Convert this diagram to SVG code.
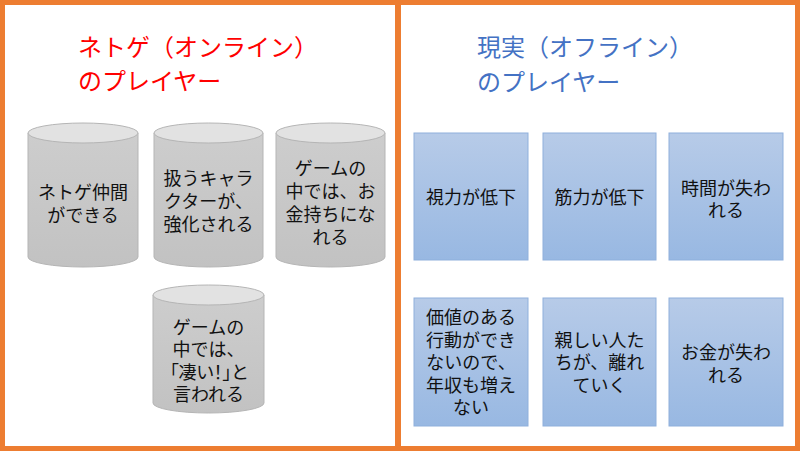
<svg xmlns="http://www.w3.org/2000/svg" width="800" height="451" viewBox="0 0 800 451">
<defs>
<linearGradient id="cylBody" x1="0" y1="0" x2="0" y2="1">
<stop offset="0" stop-color="#cdcdcd"/>
<stop offset="1" stop-color="#c2c2c2"/>
</linearGradient>
<linearGradient id="boxFill" x1="0" y1="0" x2="0" y2="1">
<stop offset="0" stop-color="#b7cbe8"/>
<stop offset="1" stop-color="#98b8e2"/>
</linearGradient>
<style>
.frame{fill:none;stroke:#ed7d31;stroke-width:5}
.cylb{fill:url(#cylBody);stroke:#b5b5b5;stroke-width:1}
.cylt{fill:#e2e2e2;stroke:#b5b5b5;stroke-width:1}
.box{fill:url(#boxFill);stroke:#8fb0dc;stroke-width:1}
.t{font-family:"Noto Sans CJK JP","Noto Sans",sans-serif;font-size:18px;fill:#111;text-anchor:middle}
.p{font-feature-settings:"palt"}
.h{font-family:"Noto Sans CJK JP","Noto Sans",sans-serif;font-size:24px}
</style>
</defs>
<rect width="800" height="451" fill="#ffffff"/>
<g id="frame">
<rect class="frame" x="2.5" y="2.5" width="795" height="446"/>
<line x1="398" y1="2" x2="398" y2="449" stroke="#ed7d31" stroke-width="6"/>
</g>
<g id="title-left">
<text class="h" fill="#ff0000" x="78" y="56">ネトゲ（オンライン）</text>
<text class="h" fill="#ff0000" x="78" y="90">のプレイヤー</text>
</g>
<g id="title-right">
<text class="h" fill="#4472c4" x="477" y="56">現実（オフライン）</text>
<text class="h" fill="#4472c4" x="477" y="91">のプレイヤー</text>
</g>
<g id="cyl1">
<path class="cylb" d="M28,133 V257 A55,10 0 0 0 138,257 V133 Z"/>
<ellipse class="cylt" cx="83" cy="133" rx="55" ry="10"/>
<text class="t" x="83" y="199">ネトゲ仲間</text>
<text class="t" x="83" y="222">ができる</text>
</g>
<g id="cyl2">
<path class="cylb" d="M154,133 V257 A54.5,10 0 0 0 263,257 V133 Z"/>
<ellipse class="cylt" cx="208.5" cy="133" rx="54.5" ry="10"/>
<text class="t" x="208.5" y="185">扱うキャラ</text>
<text class="t" x="208.5" y="208">クターが、</text>
<text class="t" x="208.5" y="231">強化される</text>
</g>
<g id="cyl3">
<path class="cylb" d="M276,133 V257 A54.5,10 0 0 0 385,257 V133 Z"/>
<ellipse class="cylt" cx="330.5" cy="133" rx="54.5" ry="10"/>
<text class="t" x="330.5" y="175">ゲームの</text>
<text class="t" x="330.5" y="198">中では、お</text>
<text class="t" x="330.5" y="221">金持ちにな</text>
<text class="t" x="330.5" y="244">れる</text>
</g>
<g id="cyl4">
<path class="cylb" d="M153,295 V403 A55.5,10 0 0 0 264,403 V295 Z"/>
<ellipse class="cylt" cx="208.5" cy="295" rx="55.5" ry="10"/>
<text class="t" x="208.5" y="334">ゲームの</text>
<text class="t" x="208.5" y="356">中では、</text>
<text class="t p" x="208.5" y="379">「凄い！」と</text>
<text class="t" x="208.5" y="401">言われる</text>
</g>
<g id="box1">
<rect class="box" x="414" y="133" width="114" height="127"/>
<text class="t" x="471" y="204">視力が低下</text>
</g>
<g id="box2">
<rect class="box" x="543" y="133" width="113" height="127"/>
<text class="t" x="599.5" y="204">筋力が低下</text>
</g>
<g id="box3">
<rect class="box" x="669" y="133" width="114" height="127"/>
<text class="t" x="726" y="195">時間が失わ</text>
<text class="t" x="726" y="217">れる</text>
</g>
<g id="box4">
<rect class="box" x="414" y="298" width="114" height="128"/>
<text class="t" x="471" y="324">価値のある</text>
<text class="t" x="471" y="347">行動ができ</text>
<text class="t" x="471" y="369">ないので、</text>
<text class="t" x="471" y="392">年収も増え</text>
<text class="t" x="471" y="414">ない</text>
</g>
<g id="box5">
<rect class="box" x="543" y="298" width="113" height="128"/>
<text class="t" x="599.5" y="347">親しい人た</text>
<text class="t" x="599.5" y="369">ちが、離れ</text>
<text class="t" x="599.5" y="392">ていく</text>
</g>
<g id="box6">
<rect class="box" x="669" y="298" width="114" height="128"/>
<text class="t" x="726" y="359">お金が失わ</text>
<text class="t" x="726" y="382">れる</text>
</g>
<g id="connectors"></g>
</svg>
